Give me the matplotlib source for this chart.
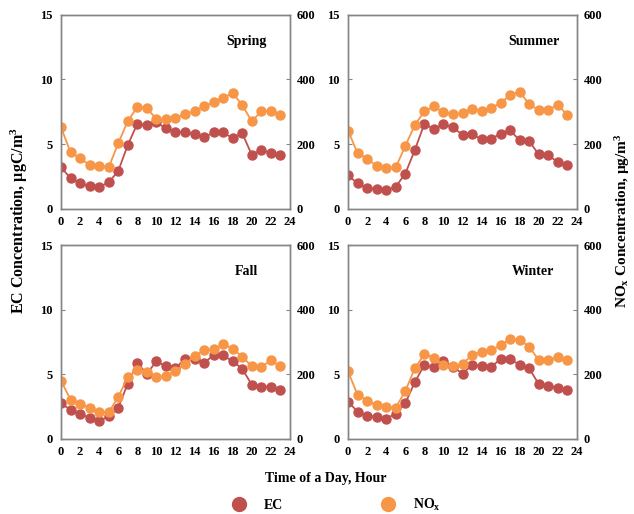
import matplotlib
matplotlib.use("Agg")
import matplotlib.pyplot as plt
from matplotlib.lines import Line2D

plt.rcParams["font.family"] = "Liberation Serif"
plt.rcParams["font.weight"] = "bold"
plt.rcParams["mathtext.fontset"] = "custom"
plt.rcParams["mathtext.rm"] = "Liberation Serif:bold"
plt.rcParams["mathtext.it"] = "Liberation Serif:bold"
plt.rcParams["mathtext.bf"] = "Liberation Serif:bold"

hours = list(range(24))
seasons = ["Spring", "Summer", "Fall", "Winter"]

# hourly EC (ugC/m3) by season
ec_spring = [3.22, 2.35, 1.96, 1.73, 1.68, 2.04, 2.91, 4.92, 6.57, 6.44, 6.70, 6.21,
             5.93, 5.93, 5.77, 5.52, 5.90, 5.90, 5.46, 5.85, 4.18, 4.54, 4.33, 4.18]
ec_summer = [2.58, 1.96, 1.57, 1.55, 1.44, 1.70, 2.71, 4.54, 6.57, 6.16, 6.55, 6.29,
             5.72, 5.77, 5.36, 5.41, 5.80, 6.06, 5.28, 5.21, 4.20, 4.12, 3.61, 3.35]
ec_fall = [2.81, 2.22, 1.91, 1.65, 1.39, 1.75, 2.42, 4.28, 5.88, 5.05, 6.01, 5.62,
           5.46, 6.21, 6.16, 5.90, 6.47, 6.47, 6.01, 5.44, 4.20, 4.05, 4.05, 3.76]
ec_winter = [2.89, 2.11, 1.80, 1.73, 1.57, 1.96, 2.76, 4.41, 5.72, 5.54, 6.06, 5.59,
             5.05, 5.72, 5.67, 5.57, 6.19, 6.21, 5.72, 5.46, 4.23, 4.12, 3.97, 3.76]

# hourly NOx (ug/m3) by season
nox_spring = [252, 175, 156, 135, 133, 128, 202, 271, 315, 311, 278, 278,
              280, 294, 301, 317, 329, 343, 358, 321, 271, 301, 303, 289]
nox_summer = [242, 171, 155, 132, 125, 128, 194, 259, 301, 317, 298, 293,
              296, 309, 304, 313, 326, 353, 361, 324, 305, 307, 321, 290]
nox_fall = [180, 122, 109, 97, 85, 82, 130, 191, 215, 208, 193, 194,
            211, 231, 257, 274, 277, 293, 280, 255, 225, 223, 243, 225]
nox_winter = [209, 136, 119, 104, 98, 97, 148, 219, 262, 252, 230, 225,
              232, 260, 270, 274, 291, 309, 307, 285, 244, 245, 253, 246]

ec_data = [ec_spring, ec_summer, ec_fall, ec_winter]
nox_data = [nox_spring, nox_summer, nox_fall, nox_winter]

ec_color = "#C0504D"
nox_color = "#F79646"
spine_color = "#858585"

fig = plt.figure(figsize=(6.34, 5.14), dpi=100)

w, h = 0.361, 0.377
positions = [(0.0962, 0.594), (0.549, 0.594), (0.0962, 0.146), (0.549, 0.146)]

for pos, name, ec, nox in zip(positions, seasons, ec_data, nox_data):
    ax = fig.add_axes([pos[0], pos[1], w, h])
    ax2 = ax.twinx()

    ax.plot(hours, ec, color=ec_color, marker="o", markersize=6.5, linewidth=1.3)
    ax2.plot(hours, nox, color=nox_color, marker="o", markersize=6.5, linewidth=1.3)

    ax.set_xlim(0, 24)
    ax.set_xticks(range(0, 25, 2))
    ax.set_ylim(0, 15)
    ax.set_yticks([0, 5, 10, 15])
    ax2.set_ylim(0, 600)
    ax2.set_yticks([0, 200, 400, 600])

    for a in (ax, ax2):
        for s in a.spines.values():
            s.set_color(spine_color)
            s.set_linewidth(1.0)
    ax.tick_params(axis="y", direction="in", length=3, color=spine_color,
                   labelsize=9, pad=6)
    ax2.tick_params(axis="y", direction="in", length=3, color=spine_color,
                    labelsize=9, pad=5)
    ax.tick_params(axis="x", length=0, labelsize=9, pad=5)

    ax.text(0.81, 0.862, name, transform=ax.transAxes, ha="center", va="center",
            fontsize=10, fontweight="bold")

fig.text(0.03, 0.57, "EC Concentration, \u00b5gC/m$^3$", rotation=90,
         ha="center", va="center", fontsize=11.5, fontweight="bold")
fig.text(0.982, 0.57, "NO$_\\mathrm{x}$ Concentration, \u00b5g/m$^3$", rotation=90,
         ha="center", va="center", fontsize=11, fontweight="bold")
fig.text(0.514, 0.07, "Time of a Day, Hour", ha="center", va="center",
         fontsize=10, fontweight="bold")

handles = [Line2D([], [], color=ec_color, marker="o", linestyle="none", markersize=10),
           Line2D([], [], color=nox_color, marker="o", linestyle="none", markersize=10)]
fig.legend(handles, ["EC", "NO$_\\mathrm{x}$"], loc="center", bbox_to_anchor=(0.525, 0.018),
           ncol=2, frameon=False, fontsize=10, handletextpad=0.8, columnspacing=6.5)

fig.savefig("out.png", dpi=100)
